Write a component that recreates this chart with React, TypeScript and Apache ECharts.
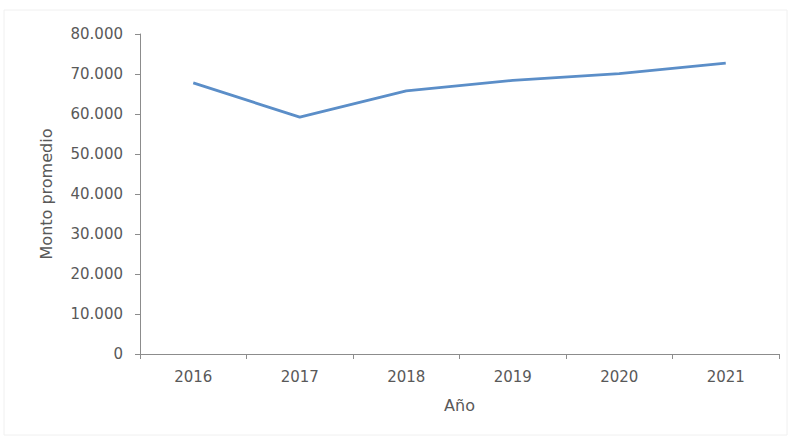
import React, { useEffect, useRef } from "react";
import * as echarts from "echarts";

const years = ["2016", "2017", "2018", "2019", "2020", "2021"];
const montoPromedio = [67800, 59200, 65800, 68400, 70100, 72700];
const yTicks = { min: 0, max: 80000, interval: 10000 };

const fmt = (v: number) =>
  v === 0 ? "0" : String(v).replace(/\B(?=(\d{3})+(?!\d))/g, ".");

export default function App() {
  const ref = useRef<HTMLDivElement>(null);
  useEffect(() => {
    document.body.style.margin = "0";
    const chart = echarts.init(ref.current!, undefined, { renderer: "svg" });
    const font = "'DejaVu Sans', 'Noto Sans', sans-serif";
    chart.setOption({
      animation: false,
      backgroundColor: "#ffffff",
      grid: { left: 140, right: 12, top: 34, bottom: 85, containLabel: false },
      graphic: [
        {
          type: "rect",
          shape: { x: 4, y: 10, width: 783, height: 425 },
          style: { fill: "none", stroke: "#f0f0f0", lineWidth: 1 },
          silent: true,
        },
      ],
      xAxis: {
        type: "category",
        data: years,
        boundaryGap: true,
        name: "Año",
        nameLocation: "middle",
        nameGap: 43,
        nameTextStyle: { color: "#595959", fontSize: 16, fontFamily: font },
        axisLine: { lineStyle: { color: "#8c8c8c", width: 1 } },
        axisTick: { show: true, alignWithLabel: false, length: 5, lineStyle: { color: "#8c8c8c" } },
        axisLabel: { color: "#595959", fontSize: 15, fontFamily: font, margin: 15 },
        splitLine: { show: false },
      },
      yAxis: {
        type: "value",
        min: yTicks.min,
        max: yTicks.max,
        interval: yTicks.interval,
        name: "Monto promedio",
        nameLocation: "middle",
        nameGap: 86,
        nameRotate: 90,
        nameTextStyle: { color: "#595959", fontSize: 16, fontFamily: font },
        axisLine: { show: true, lineStyle: { color: "#8c8c8c", width: 1 } },
        axisTick: { show: true, length: 5, lineStyle: { color: "#8c8c8c" } },
        axisLabel: { color: "#595959", fontSize: 15, fontFamily: font, margin: 17, formatter: (v: number) => fmt(v) },
        splitLine: { show: false },
      },
      series: [
        {
          type: "line",
          data: montoPromedio,
          showSymbol: false,
          symbol: "none",
          lineStyle: { color: "#5b8ec8", width: 2.8 },
          itemStyle: { color: "#5b8ec8" },
        },
      ],
    });
    return () => chart.dispose();
  }, []);
  return <div ref={ref} style={{ width: 791, height: 439 }} />;
}
